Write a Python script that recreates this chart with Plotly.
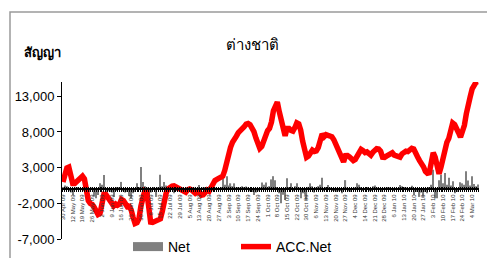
import plotly.graph_objects as go

# ---- data ----
tick_labels = ["30 Apr 09", "12 May 09", "19 May 09", "26 May 09", "2 Jun 09", "9 Jun 09",
               "16 Jun 09", "23 Jun 09", "30 Jun 09", "8 Jul 09", "15 Jul 09", "22 Jul 09",
               "29 Jul 09", "5 Aug 09", "13 Aug 09", "20 Aug 09", "27 Aug 09", "3 Sep 09",
               "10 Sep 09", "17 Sep 09", "24 Sep 09", "1 Oct 09", "8 Oct 09", "15 Oct 09",
               "22 Oct 09", "30 Oct 09", "6 Nov 09", "13 Nov 09", "20 Nov 09", "27 Nov 09",
               "4 Dec 09", "14 Dec 09", "21 Dec 09", "28 Dec 09", "6 Jan 10", "13 Jan 10",
               "20 Jan 10", "27 Jan 10", "3 Feb 10", "10 Feb 10", "17 Feb 10", "24 Feb 10",
               "4 Mar 10"]
tick_every = 5

acc_net = [1000, 2000, 2950, 3080, 1700, 790, 790, 1100, 1450, 1750,
           1810, 1420, -50, -1620, -2020, -2160, -2550, -3360, -3570, -3420,
           -1910, -750, -760, -1190, -1660, -2060, -2360, -2090, -2280, -2120,
           -1450, -1610, -2060, -2460, -2410, -2920, -3990, -4840, -4720, -4150,
           -2390, -870, -230, -340, -2950, -4640, -4690, -4580, -4310, -4250,
           -4180, -3090, -1540, -510, 30, 310, 400, 440, 270, 70,
           -110, -220, -380, -440, -90, 20, -110, -350, -600, -460,
           -490, -850, -790, -480, -150, -310, 290, 920, 1190, 1360,
           1490, 1550, 1820, 2590, 3780, 5090, 5840, 6550, 7180, 7410,
           7910, 8130, 8290, 8750, 9100, 9180, 9010, 8640, 8040, 7160,
           6210, 5710, 5980, 6820, 7760, 8190, 8510, 9390, 10950, 11880,
           12180, 10840, 9880, 8940, 7450, 8510, 8500, 8210, 8110, 8600,
           9280, 9130, 8250, 6710, 5290, 4450, 4640, 5150, 5460, 5270,
           5350, 5810, 6730, 7720, 7330, 7610, 7510, 7330, 7330, 6910,
           6230, 5530, 5280, 4560, 3810, 4690, 4700, 4510, 4200, 3990,
           4150, 4550, 5190, 5550, 5380, 5100, 5200, 4940, 4750, 5140,
           5540, 5650, 5600, 5300, 4460, 4440, 4620, 4830, 5000, 5080,
           4760, 4680, 4700, 4470, 4930, 5250, 5310, 5250, 5420, 5690,
           5600, 4790, 4490, 3980, 3600, 3120, 2480, 2220, 2290, 3790,
           5090, 4480, 3110, 2130, 3080, 4500, 5800, 6540, 7100, 8420,
           9250, 9040, 8590, 7890, 7260, 8150, 8930, 10560, 12370, 12950,
           14040, 14790, 14980, 15050]

net = [300, 500, 400, -300, -500, -840, 200, 300, 250, 150,
       100, -200, -600, -700, -400, 200, -1050, -1300, -840, 800,
       600, 1960, -840, -300, -400, -500, -1100, 300, -200, 250,
       1000, -300, -500, -400, -980, -1300, -600, -400, 800, 300,
       3100, 1000, 400, 200, -1540, -500, 300, 200, -1100, 250,
       2000, 400, 1000, 500, 300, 200, 150, -600, -200, 100,
       -150, -100, -200, 150, 300, 100, -250, -300, 200, -200,
       550, -1300, 200, 300, -200, 400, 500, 300, 200, 150,
       100, 300, 1500, 600, 1800, 500, 800, 400, 800, 200,
       300, 200, 400, 300, 350, 200, -300, -400, -840, -500,
       -300, 200, 900, 600, 900, 300, 400, 1350, 1800, 1250,
       300, -600, -2000, -800, -1540, 1500, 300, 800, -300, 400,
       800, 200, -1300, -600, -800, -1540, 300, 800, 400, -500,
       200, 400, 600, 1600, -300, 300, 550, 200, -200, -300,
       -400, -300, -200, -600, -300, 1250, 200, -300, -400, 150,
       200, 800, 600, 300, -200, 150, 300, -300, -200, 400,
       500, 200, 150, -300, -400, 100, 200, 300, 250, 100,
       -200, 150, 100, 550, 400, 300, 200, -150, 300, 450,
       -840, -400, -300, -1100, -500, -1100, -400, -600, 300, 600,
       2700, -1300, -1300, 1250, 2000, 800, 2260, 600, 1600, 500,
       1100, -600, -400, -300, 950, 800, 600, 2500, 1200, 500,
       1800, 700, 400, 640]

y_tick_vals = [-7000, -2000, 3000, 8000, 13000]
y_tick_text = ["-7,000", "-2,000", "3,000", "8,000", "13,000"]

days = list(range(len(acc_net)))
tick_pos = [i * tick_every for i in range(len(tick_labels))]

# ---- layout geometry (page pixels; the page body has an 8px margin) ----
OFF = 8
PAGE_W, PAGE_H = 495, 258
W, H = PAGE_W - OFF, PAGE_H - OFF
PLOT_L, PLOT_R, PLOT_T, PLOT_B = 62, 479, 82, 239  # page coords
ML, MR, MT, MB = PLOT_L - OFF, PAGE_W - PLOT_R, PLOT_T - OFF, PAGE_H - PLOT_B
PW, PH = W - ML - MR, H - MT - MB
Y_MIN, Y_MAX = -7000, 15000
zero_pos = (0 - Y_MIN) / (Y_MAX - Y_MIN)

def px_x(px):  # page x -> paper fraction
    return (px - PLOT_L) / PW

def px_y(py):  # page y -> paper fraction
    return (PLOT_B - py) / PH

FONT = "Liberation Sans, Arial, sans-serif"

fig = go.Figure()
fig.add_trace(go.Bar(x=days, y=net, name="Net", marker=dict(color="#808080", line=dict(width=0)),
                     showlegend=False))
fig.add_trace(go.Scatter(x=[None], y=[None], mode="lines", name="Net",
                         line=dict(color="#808080", width=9)))
fig.add_trace(go.Scatter(x=days, y=acc_net, mode="lines", name="ACC.Net",
                         line=dict(color="#FF0000", width=5.5)))

xr = [-0.5, len(days) - 0.5]
fig.update_layout(
    width=W, height=H,
    margin=dict(l=ML, r=MR, t=MT, b=MB, pad=0, autoexpand=False),
    paper_bgcolor="white", plot_bgcolor="white",
    bargap=0.4,
    font=dict(family=FONT, color="black"),
    xaxis=dict(range=xr, anchor="free", position=zero_pos, automargin=False,
               tickmode="array", tickvals=tick_pos, ticktext=tick_labels,
               tickangle=-90, tickfont=dict(size=6, color="#333333"),
               showline=True, linecolor="black", linewidth=2,
               ticks="outside", ticklen=2, tickcolor="black", tickwidth=1,
               minor=dict(tickmode="linear", tick0=0, dtick=1, ticks="outside",
                          ticklen=2, tickcolor="black", tickwidth=1),
               showgrid=False, zeroline=False),
    xaxis2=dict(range=xr, overlaying="x", anchor="free", position=zero_pos, automargin=False,
                showticklabels=False, showline=False, showgrid=False, zeroline=False,
                tickmode="linear", tick0=0, dtick=1, ticks="inside", ticklen=2,
                tickcolor="black", tickwidth=1),
    yaxis=dict(range=[Y_MIN, Y_MAX], tickmode="array", tickvals=y_tick_vals, automargin=False,
               ticktext=y_tick_text, tickfont=dict(size=13, color="black"),
               showline=True, linecolor="black", linewidth=1,
               ticks="outside", ticklen=4, tickcolor="black",
               showgrid=False, zeroline=False),
    legend=dict(orientation="h", xref="container", yref="container",
                x=(128 - OFF) / W, y=1 - (231 - OFF) / H, xanchor="left", yanchor="top",
                entrywidth=63, font=dict(size=14, family=FONT),
                bgcolor="rgba(0,0,0,0)", itemwidth=30, tracegroupgap=0),
    showlegend=True,
)
# invisible trace to activate xaxis2
fig.add_trace(go.Scatter(x=[0], y=[0], xaxis="x2", mode="markers",
                         marker=dict(opacity=0), showlegend=False, hoverinfo="skip"))

fig.add_annotation(text="ต่างชาติ", x=px_x(252), y=px_y(44), xref="paper", yref="paper",
                   showarrow=False, font=dict(size=15, color="black"),
                   xanchor="center", yanchor="middle")
fig.add_annotation(text="<b>สัญญา</b>", x=px_x(22), y=px_y(53), xref="paper", yref="paper",
                   showarrow=False, font=dict(size=13, color="black"),
                   xanchor="left", yanchor="middle")
fig.add_shape(type="rect", xref="paper", yref="paper",
              x0=px_x(10), x1=px_x(PAGE_W + 5), y0=px_y(PAGE_H + 5), y1=px_y(12),
              line=dict(color="#9a9a9a", width=1.5), fillcolor="rgba(0,0,0,0)")

fig.write_html("out.html")
